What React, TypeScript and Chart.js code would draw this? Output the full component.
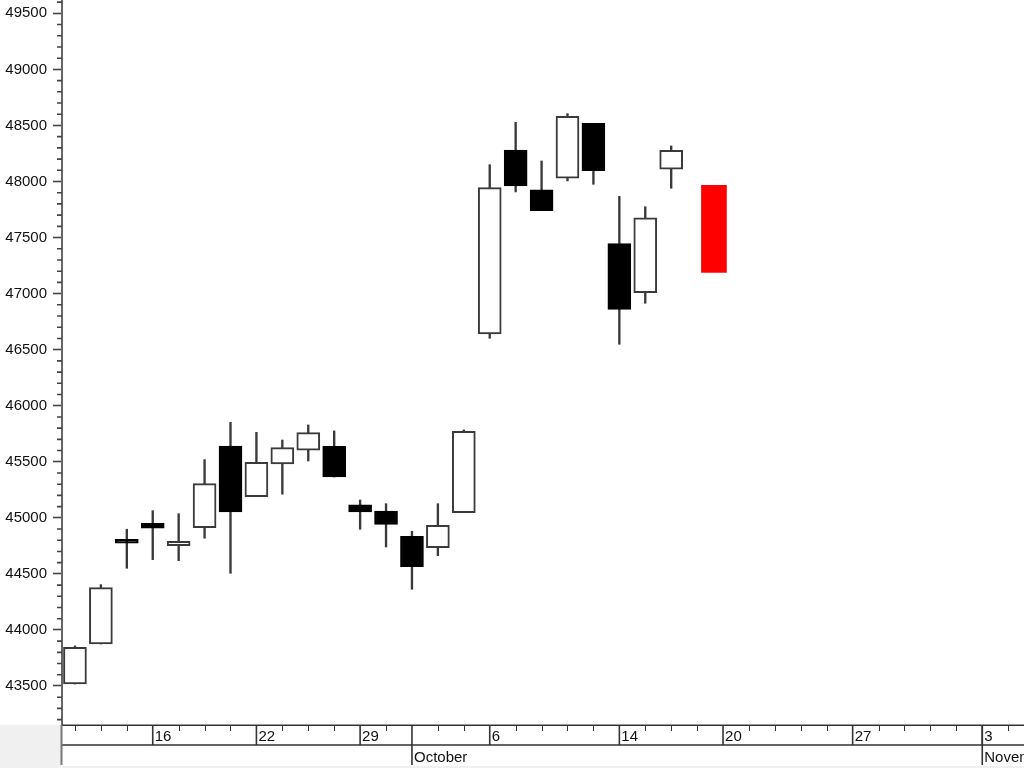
import React, { useEffect, useRef } from 'react';
import { Chart, registerables } from 'chart.js';

Chart.register(...registerables);

// Trading days shown on the axis (day of month), index = x position
const dayNumbers = [10, 11, 12, 16, 17, 18, 19, 22, 24, 25, 26, 29, 30, 1, 2, 3, 6, 7, 8, 9, 10, 14, 15, 16, 17, 20, 21, 22, 23, 24, 27, 28, 29, 30, 31, 3, 4];

// Week tick labels (first trading day of each week) and their day index
const weekTickIndex = [3, 7, 11, 16, 21, 25, 30, 35];
const weekTickLabels = ['16', '22', '29', '6', '14', '20', '27', '3'];

// Month labels and the index of the first trading day of the month
const monthTickIndex = [13, 35];
const monthLabels = ['October', 'November'];

// Candles (one per trading day from index 0)
const openValues = [43518, 43875, 44809, 44951, 44752, 44912, 45641, 45189, 45480, 45603, 45638, 45115, 45061, 44835, 44734, 45046, 46640, 48281, 47925, 48029, 48518, 47446, 47008, 48109];
const highValues = [43857, 44404, 44898, 45064, 45037, 45519, 45852, 45763, 45694, 45828, 45775, 45159, 45126, 44880, 45126, 45784, 48150, 48528, 48183, 48605, 48518, 47868, 47775, 48317];
const lowValues = [43518, 43875, 44550, 44627, 44618, 44818, 44505, 45189, 45211, 45507, 45364, 44898, 44740, 44363, 44662, 45046, 46602, 47907, 47740, 48005, 47975, 46548, 46914, 47940];
const closeValues = [43845, 44377, 44773, 44907, 44791, 45305, 45052, 45496, 45626, 45760, 45364, 45052, 44942, 44564, 44934, 45772, 47945, 47960, 47740, 48582, 48096, 46860, 47677, 48279];

// Red forecast box
const forecastPosition = 24.65;
const forecastRange = [47190, 47965];

// Y axis
const yTickValues = [43500, 44000, 44500, 45000, 45500, 46000, 46500, 47000, 47500, 48000, 48500, 49000, 49500];
const yMinorStep = 100;
const yMin = 43152;
const yMax = 49619;
const xMin = -0.5;
const xMax = 36.61;

const FONT = '"Liberation Sans", Arial, sans-serif';

const axisBandPlugin = {
  id: 'axisBand',
  afterDraw(chart: any) {
    const { ctx, chartArea } = chart;
    const xs = chart.scales.x;
    const ys = chart.scales.y;
    const top = chartArea.bottom;
    const mid = top + 20;
    const bottom = mid + 20;
    const left = chartArea.left;
    const right = chart.width;
    const al = (v: number) => Math.round(v) + 0.5;

    ctx.save();
    // light grey areas
    ctx.fillStyle = '#f0f0f0';
    ctx.fillRect(0, top, left - 1, chart.height - top);
    ctx.fillRect(left, bottom + 1, right - left, chart.height - bottom - 1);

    // minor y ticks
    ctx.strokeStyle = '#444';
    ctx.lineWidth = 1.6;
    ctx.beginPath();
    for (let v = Math.ceil(yMin / yMinorStep) * yMinorStep; v <= yMax; v += yMinorStep) {
      if (v % 500 === 0) continue;
      const py = ys.getPixelForValue(v);
      ctx.moveTo(left - 5, py);
      ctx.lineTo(left, py);
    }
    ctx.stroke();

    // horizontal band lines
    ctx.strokeStyle = '#333';
    ctx.lineWidth = 1.6;
    ctx.beginPath();
    ctx.moveTo(left, top + 0.25);
    ctx.lineTo(right, top + 0.25);
    ctx.moveTo(left, mid);
    ctx.lineTo(right, mid);
    ctx.stroke();

    // left axis line through the band
    ctx.strokeStyle = '#777';
    ctx.lineWidth = 2;
    ctx.beginPath();
    ctx.moveTo(left - 0.5, top);
    ctx.lineTo(left - 0.5, bottom);
    ctx.stroke();

    // daily small ticks
    ctx.strokeStyle = '#333';
    ctx.lineWidth = 1;
    ctx.beginPath();
    dayNumbers.forEach((_, i) => {
      if (weekTickIndex.includes(i) || monthTickIndex.includes(i)) return;
      const px = al(xs.getPixelForValue(i));
      ctx.moveTo(px, top);
      ctx.lineTo(px, top + 6);
    });
    ctx.stroke();

    // week separators + labels
    ctx.lineWidth = 1.6;
    ctx.strokeStyle = '#333';
    ctx.fillStyle = '#111';
    ctx.font = `15px ${FONT}`;
    ctx.textAlign = 'left';
    ctx.textBaseline = 'alphabetic';
    weekTickIndex.forEach((idx, k) => {
      const px = xs.getPixelForValue(idx);
      ctx.beginPath();
      ctx.moveTo(px, top);
      ctx.lineTo(px, mid);
      ctx.stroke();
      ctx.fillText(weekTickLabels[k], px + 2, top + 16);
    });

    // month separators + labels
    monthTickIndex.forEach((idx, k) => {
      const px = xs.getPixelForValue(idx);
      ctx.beginPath();
      ctx.moveTo(px, top);
      ctx.lineTo(px, bottom);
      ctx.stroke();
      ctx.fillText(monthLabels[k], px + 2, mid + 17);
    });
    ctx.restore();
  },
};

export default function App() {
  const canvasRef = useRef<HTMLCanvasElement | null>(null);

  useEffect(() => {
    document.body.style.margin = '0';
    document.body.style.background = '#ffffff';
    const canvas = canvasRef.current;
    if (!canvas) return;

    const bodies = openValues.map((o, i) => ({ x: i, y: [o, closeValues[i]] }));
    const wicks = highValues.map((h, i) => ({ x: i, y: [lowValues[i], h] }));
    const bodyFill = openValues.map((o, i) => (closeValues[i] >= o ? '#ffffff' : '#000000'));
    const bodyStroke = openValues.map((o, i) => (closeValues[i] >= o ? '#3a3a3a' : '#000000'));

    const chart = new Chart(canvas, {
      type: 'bar',
      data: {
        datasets: [
          {
            label: 'forecast',
            data: [{ x: forecastPosition, y: forecastRange }],
            backgroundColor: '#ff0000',
            borderWidth: 0,
            barThickness: 25,
            grouped: false,
            order: 0,
          } as any,
          {
            label: 'body',
            data: bodies,
            backgroundColor: bodyFill,
            borderColor: bodyStroke,
            borderWidth: 2,
            borderSkipped: false,
            barThickness: 23,
            grouped: false,
            order: 1,
          } as any,
          {
            label: 'wick',
            data: wicks,
            backgroundColor: '#3a3a3a',
            borderWidth: 0,
            barThickness: 1.7,
            grouped: false,
            order: 2,
          } as any,
        ],
      },
      options: {
        animation: false,
        responsive: false,
        maintainAspectRatio: false,
        layout: { padding: { top: 0, left: 0, right: 0, bottom: 43 } },
        plugins: {
          legend: { display: false },
          tooltip: { enabled: false },
          title: { display: false },
        },
        scales: {
          x: {
            type: 'linear',
            display: false,
            min: xMin,
            max: xMax,
            offset: false,
          },
          y: {
            type: 'linear',
            min: yMin,
            max: yMax,
            afterBuildTicks: (s: any) => {
              s.ticks = yTickValues.map((v) => ({ value: v }));
            },
            afterFit: (s: any) => {
              s.width = 62;
              s.paddingTop = 0;
              s.paddingBottom = 0;
            },
            grid: {
              drawOnChartArea: false,
              drawTicks: true,
              tickLength: 9,
              tickColor: '#444',
              tickWidth: 1.6,
            },
            border: { display: true, color: '#666', width: 2 },
            ticks: {
              padding: 6,
              autoSkip: false,
              color: '#111',
              font: { family: FONT, size: 15 },
              callback: (v: any) => String(v),
            },
          },
        },
      } as any,
      plugins: [axisBandPlugin],
    });

    return () => chart.destroy();
  }, []);

  return (
    <div style={{ width: 1024, height: 768, background: '#fff' }}>
      <canvas ref={canvasRef} width={1024} height={768} style={{ display: 'block' }} />
    </div>
  );
}
